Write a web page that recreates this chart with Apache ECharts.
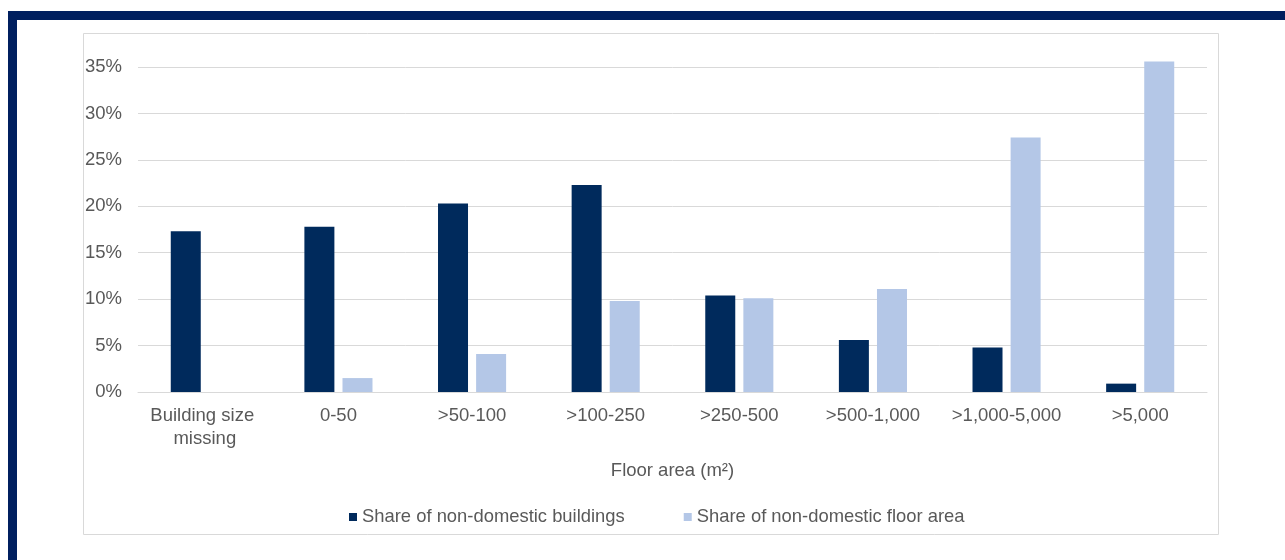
<!DOCTYPE html>
<html>
<head>
<meta charset="utf-8">
<title>Non-domestic buildings by floor area</title>
<script src="https://cdn.jsdelivr.net/npm/echarts@6/dist/echarts.min.js"></script>
<style>
  html, body { margin: 0; padding: 0; background: #ffffff; }
  #chart { width: 1285px; height: 560px; }
</style>
</head>
<body>
<div id="chart"></div>
<script>
// Floor area bands (m²)
var categories = ['Building size missing', '0-50', '>50-100', '>100-250', '>250-500', '>500-1,000', '>1,000-5,000', '>5,000'];
// Share of non-domestic buildings (%)
var shareBuildings = [17.3, 17.8, 20.3, 22.3, 10.4, 5.6, 4.8, 0.9];
// Share of non-domestic floor area (%); no floor area where size is missing
var shareFloorArea = ['-', 1.5, 4.1, 9.8, 10.1, 11.1, 27.4, 35.6];
// Percentage axis ticks
var yMin = 0, yMax = 35, yStep = 5;

var FONT = '"Liberation Sans", Arial, sans-serif';
var TEXT = '#595959';
var GRID = '#d9d9d9';
var NAVY = '#002a5c';
var LIGHT = '#b4c7e7';
var FRAME = '#001f5f';

var chart = echarts.init(document.getElementById('chart'), null, { renderer: 'canvas' });

chart.setOption({
  backgroundColor: '#ffffff',
  animation: false,
  textStyle: { fontFamily: FONT },
  graphic: [
    // navy frame along the top and left edges
    { type: 'rect', silent: true, shape: { x: 8, y: 11, width: 1277, height: 9 }, style: { fill: FRAME } },
    { type: 'rect', silent: true, shape: { x: 8, y: 11, width: 9, height: 549 }, style: { fill: FRAME } },
    // chart area outline
    { type: 'rect', silent: true, shape: { x: 83.5, y: 33.5, width: 1135, height: 501 },
      style: { fill: null, stroke: GRID, lineWidth: 1 } }
  ],
  grid: { left: 138, right: 78, top: 67, bottom: 168, containLabel: false },
  legend: {
    left: 349,
    top: 508,
    padding: 0,
    itemWidth: 8,
    itemHeight: 8,
    itemGap: 59,
    icon: 'rect',
    textStyle: { color: TEXT, fontSize: 18.4, fontFamily: FONT },
    data: ['Share of non-domestic buildings', 'Share of non-domestic floor area']
  },
  xAxis: {
    type: 'category',
    data: categories,
    name: 'Floor area (m²)',
    nameLocation: 'middle',
    nameGap: 69,
    nameTextStyle: { color: TEXT, fontSize: 18.5, fontFamily: FONT },
    axisLine: { show: true, lineStyle: { color: GRID, width: 1 } },
    axisTick: { show: false },
    axisLabel: {
      interval: 0,
      color: TEXT,
      fontSize: 18.5,
      fontFamily: FONT,
      margin: 12,
      width: 125,
      overflow: 'break',
      lineHeight: 23
    }
  },
  yAxis: {
    type: 'value',
    min: yMin,
    max: yMax,
    interval: yStep,
    axisLine: { show: false },
    axisTick: { show: false },
    axisLabel: {
      color: TEXT,
      fontSize: 18.5,
      fontFamily: FONT,
      margin: 16,
      formatter: '{value}%'
    },
    splitLine: { lineStyle: { color: GRID, width: 1 } }
  },
  series: [
    {
      name: 'Share of non-domestic buildings',
      type: 'bar',
      data: shareBuildings,
      barWidth: 30,
      barGap: '27%',
      clip: false,
      itemStyle: { color: NAVY }
    },
    {
      name: 'Share of non-domestic floor area',
      type: 'bar',
      data: shareFloorArea,
      barWidth: 30,
      barGap: '27%',
      clip: false,
      itemStyle: { color: LIGHT }
    }
  ]
});
</script>
</body>
</html>
